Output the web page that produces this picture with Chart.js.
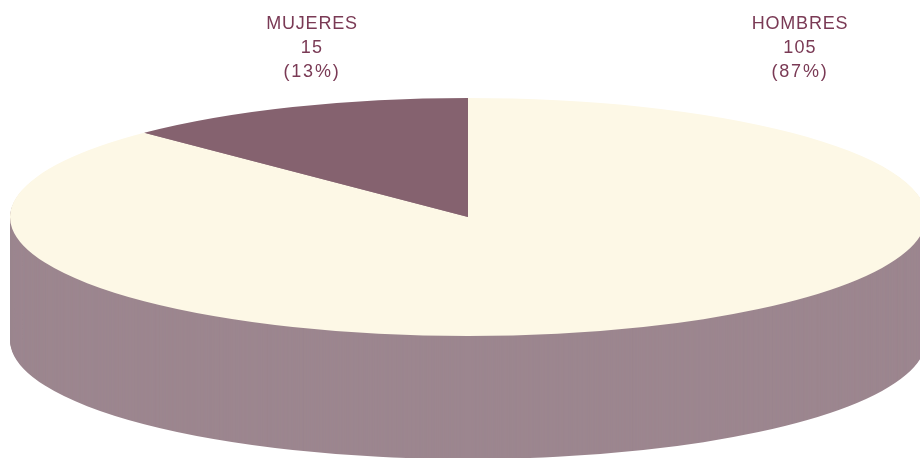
<!DOCTYPE html>
<html>
<head>
<meta charset="utf-8">
<style>
html,body{margin:0;padding:0;background:#fff;overflow:hidden}
#wrap{width:920px;height:458px;position:relative}
</style>
<script src="https://cdn.jsdelivr.net/npm/chart.js@4"></script>
</head>
<body>
<div id="wrap"><canvas id="c" width="920" height="458"></canvas></div>
<script>
const categories = ['HOMBRES', 'MUJERES'];
const values = [105, 15];
const percentLabels = ['(87%)', '(13%)'];
const topColors = ['#fdf8e6', '#85626f'];

const wallColor = '#9c868f';
const textColor = '#7a3a55';
const squash = 0.26;
const depth = 123;
const labelCenters = [800, 312];
const labelLines = [24, 48, 72];
const lineSpacing = ['0.8px', '1.2px', '1.8px'];

const tilt = {
  id: 'tilt',
  beforeDatasetsDraw(chart) {
    const ctx = chart.ctx;
    const arcs = chart.getDatasetMeta(0).data;
    const cy = arcs[0].y;
    const place = d => {
      ctx.translate(0, cy + d);
      ctx.scale(1, squash);
      ctx.translate(0, -cy);
    };
    for (let d = depth; d > 0; d--) {
      ctx.save();
      place(d);
      arcs.forEach(a => {
        const o = a.options;
        a.options = Object.create(o, {
          backgroundColor: {value: wallColor},
          borderWidth: {value: 0}
        });
        a.draw(ctx);
        a.options = o;
      });
      ctx.restore();
    }
    ctx.save();
    place(0);
  },
  afterDatasetsDraw(chart) {
    chart.ctx.restore();
  },
  afterDraw(chart) {
    const ctx = chart.ctx;
    ctx.save();
    ctx.fillStyle = textColor;
    ctx.font = '18px "Liberation Sans", Arial, sans-serif';
    ctx.textAlign = 'center';
    ctx.textBaseline = 'middle';
    categories.forEach((name, i) => {
      [name, String(values[i]), percentLabels[i]].forEach((text, l) => {
        ctx.letterSpacing = lineSpacing[l];
        ctx.fillText(text, labelCenters[i], labelLines[l]);
      });
    });
    ctx.restore();
  }
};

new Chart(document.getElementById('c'), {
  type: 'pie',
  data: {
    labels: categories,
    datasets: [{
      data: values,
      backgroundColor: topColors,
      borderWidth: 0,
      clip: false
    }]
  },
  options: {
    responsive: false,
    animation: false,
    radius: 458,
    events: [],
    layout: {padding: {left: 16, bottom: 24}},
    plugins: {legend: {display: false}, tooltip: {enabled: false}, title: {display: false}}
  },
  plugins: [tilt]
});
</script>
</body>
</html>
